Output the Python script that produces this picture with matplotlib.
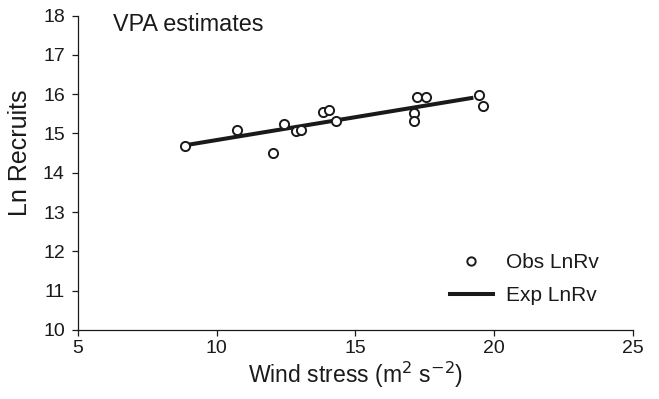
import matplotlib
matplotlib.use("Agg")
import matplotlib.pyplot as plt
from matplotlib.lines import Line2D

plt.rcParams['font.family'] = ['Liberation Sans', 'DejaVu Sans']

# Observed data (wind stress vs Ln recruits)
obs_x = [8.86, 10.72, 12.02, 12.42, 12.87, 13.02, 13.82, 14.06, 14.30,
         17.11, 17.11, 17.23, 17.54, 19.45, 19.61]
obs_y = [14.68, 15.10, 14.50, 15.24, 15.06, 15.10, 15.54, 15.59, 15.32,
         15.51, 15.32, 15.93, 15.93, 15.98, 15.71]

# Expected (fitted) line
exp_x = [8.86, 19.25]
exp_y = [14.70, 15.91]

xticks = [5, 10, 15, 20, 25]
yticks = [10, 11, 12, 13, 14, 15, 16, 17, 18]

fig = plt.figure(figsize=(6.59, 3.99), dpi=100)
ax = fig.add_axes([0.1184, 0.173, 0.842, 0.788])

ink = '#1a1a1a'
ax.plot(exp_x, exp_y, color=ink, lw=2.9, solid_capstyle='butt', zorder=2)
ax.plot(obs_x, obs_y, linestyle='none', marker='o', markersize=6.6,
        markerfacecolor='white', markeredgecolor=ink, markeredgewidth=1.4, zorder=3)

ax.set_xlim(5, 25)
ax.set_ylim(10, 18)
ax.set_xticks(xticks)
ax.set_yticks(yticks)
ax.spines['top'].set_visible(False)
ax.spines['right'].set_visible(False)
for s in ['left', 'bottom']:
    ax.spines[s].set_linewidth(0.9)
    ax.spines[s].set_color(ink)
ax.tick_params(direction='out', length=4.5, width=0.9, colors=ink, labelsize=14)
ax.tick_params(axis='y', pad=5)
ax.tick_params(axis='x', pad=3)

ax.set_xlabel('Wind stress (m$^2$ s$^{-2}$)', fontsize=16.6, color=ink, labelpad=2)
ax.set_ylabel('Ln Recruits', fontsize=18, color=ink)
ax.yaxis.set_label_coords(-0.083, 0.563)

ax.text(113 / 659, 1 - 13 / 399, 'VPA estimates', transform=fig.transFigure,
        fontsize=16.8, color=ink, va='top', ha='left')

handles = [Line2D([], [], linestyle='none', marker='o', markersize=6,
                  markerfacecolor='white', markeredgecolor=ink, markeredgewidth=1.4),
           Line2D([], [], color=ink, lw=2.9)]
leg = fig.legend(handles, ['Obs LnRv', 'Exp LnRv'], loc='upper left',
                 bbox_to_anchor=(450 / 659, 1 - 253 / 399), frameon=False,
                 fontsize=15, handlelength=2.05, handletextpad=0.64,
                 labelspacing=0.69, borderpad=0, borderaxespad=0)
for t in leg.get_texts():
    t.set_color(ink)

fig.savefig('out.png', dpi=100)
